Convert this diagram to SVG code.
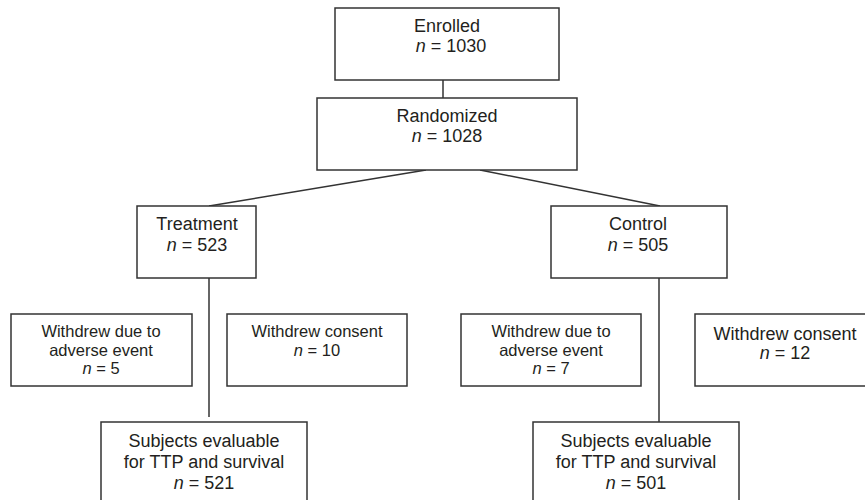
<svg xmlns="http://www.w3.org/2000/svg" width="865" height="500" viewBox="0 0 865 500">
<style>
.box{fill:#fff;stroke:#333;stroke-width:1.5}
.ln{stroke:#333;stroke-width:1.5;fill:none}
text{font-family:"Liberation Sans",Arial,sans-serif;fill:#231f20;text-anchor:middle}
.m{font-size:18px}
.s{font-size:16.5px}
.i{font-style:italic}
</style>
<rect width="865" height="500" fill="#fff"/>
<g id="connectors">
<line class="ln" x1="443" y1="62" x2="443" y2="98"/>
<line class="ln" x1="426" y1="170" x2="209" y2="206"/>
<line class="ln" x1="480" y1="170" x2="660" y2="206"/>
<line class="ln" x1="209" y1="278" x2="209" y2="417"/>
<line class="ln" x1="659" y1="278" x2="659" y2="422"/>
</g>
<g id="enrolled">
<rect class="box" x="335" y="8" width="224" height="72"/>
<text class="m" x="447" y="32">Enrolled</text>
<text class="m" x="451" y="52"><tspan class="i">n</tspan> = 1030</text>
</g>
<g id="randomized">
<rect class="box" x="317" y="98" width="260" height="72"/>
<text class="m" x="447" y="122">Randomized</text>
<text class="m" x="447" y="142"><tspan class="i">n</tspan> = 1028</text>
</g>
<g id="treatment">
<rect class="box" x="137" y="206" width="119" height="72"/>
<text class="m" x="197" y="230">Treatment</text>
<text class="m" x="197" y="251"><tspan class="i">n</tspan> = 523</text>
</g>
<g id="control">
<rect class="box" x="551" y="206" width="176" height="72"/>
<text class="m" x="638" y="230">Control</text>
<text class="m" x="638" y="251"><tspan class="i">n</tspan> = 505</text>
</g>
<g id="t-adverse">
<rect class="box" x="11" y="314" width="181" height="72"/>
<text class="s" x="101" y="337">Withdrew due to</text>
<text class="s" x="101" y="356">adverse event</text>
<text class="s" x="101" y="374"><tspan class="i">n</tspan> = 5</text>
</g>
<g id="t-consent">
<rect class="box" x="227" y="314" width="180" height="72"/>
<text class="s" x="317" y="337">Withdrew consent</text>
<text class="s" x="317" y="356"><tspan class="i">n</tspan> = 10</text>
</g>
<g id="c-adverse">
<rect class="box" x="461" y="314" width="180" height="72"/>
<text class="s" x="551" y="337">Withdrew due to</text>
<text class="s" x="551" y="356">adverse event</text>
<text class="s" x="551" y="374"><tspan class="i">n</tspan> = 7</text>
</g>
<g id="c-consent">
<rect class="box" x="695" y="314" width="180" height="72"/>
<text class="m" x="785" y="340">Withdrew consent</text>
<text class="m" x="785" y="359"><tspan class="i">n</tspan> = 12</text>
</g>
<g id="t-eval">
<rect class="box" x="101" y="422" width="206" height="90"/>
<text class="m" x="204" y="447">Subjects evaluable</text>
<text class="m" x="204" y="468">for TTP and survival</text>
<text class="m" x="204" y="489"><tspan class="i">n</tspan> = 521</text>
</g>
<g id="c-eval">
<rect class="box" x="533" y="422" width="206" height="90"/>
<text class="m" x="636" y="447">Subjects evaluable</text>
<text class="m" x="636" y="468">for TTP and survival</text>
<text class="m" x="636" y="489"><tspan class="i">n</tspan> = 501</text>
</g>
</svg>
